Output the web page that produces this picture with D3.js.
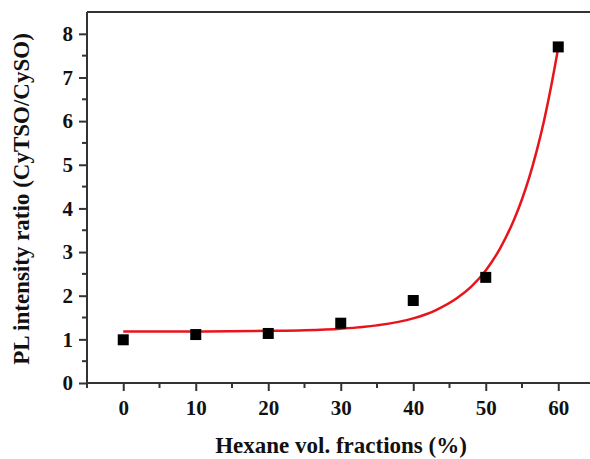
<!DOCTYPE html>
<html>
<head>
<meta charset="utf-8">
<title>PL intensity ratio vs hexane fraction</title>
<style>
  body { margin: 0; background: #fff; }
  svg { display: block; }
  text { font-family: "Liberation Serif", "Times New Roman", serif; font-weight: bold; fill: #111; }
</style>
<script src="https://cdnjs.cloudflare.com/ajax/libs/d3/7.8.5/d3.min.js"></script>
</head>
<body>
<script>
// measured points
const hexane = [0, 10, 20, 30, 40, 50, 60]
const ratio = [0.99, 1.11, 1.135, 1.37, 1.89, 2.42, 7.70]

// fitted curve
const fitX = [0, 10, 20, 25, 30, 35, 40, 43, 46, 48, 50, 52, 54, 55, 56, 57, 58, 59, 60]
const fitY = [1.18, 1.18, 1.195, 1.21, 1.245, 1.32, 1.48, 1.66, 1.94, 2.21, 2.58, 3.09, 3.78, 4.21, 4.71, 5.30, 5.98, 6.78, 7.68]

const xTicks = [0, 10, 20, 30, 40, 50, 60]
const yTicks = [0, 1, 2, 3, 4, 5, 6, 7, 8]

const width = 590
const height = 459
const mLeft = 87, mTop = 12, mBottom = 383

const svg = d3.select("body").append("svg")
    .attr("width", width)
    .attr("height", height)

const x = d3.scaleLinear().domain([-5, 65]).range([mLeft, mLeft + 507.5])
const y = d3.scaleLinear().domain([0, 8.5]).range([mBottom, mTop])

const axisColor = "#333"

// top frame line (right side is cut off in the original)
svg.append("line")
    .attr("x1", mLeft).attr("x2", width)
    .attr("y1", mTop).attr("y2", mTop)
    .attr("stroke", axisColor).attr("stroke-width", 2)

// minor ticks
const xMinor = d3.range(-5, 66, 5).filter(d => d % 10 !== 0)
const yMinor = d3.range(0.5, 8.5, 1)

const xAxis = svg.append("g")
    .attr("transform", `translate(0,${mBottom})`)
    .call(d3.axisBottom(x).tickValues(xTicks).tickSize(8).tickPadding(9).tickFormat(d3.format("d")))
xAxis.append("g").selectAll("line")
    .data(xMinor).join("line")
    .attr("x1", d => x(d)).attr("x2", d => x(d))
    .attr("y1", 0).attr("y2", 5)
    .attr("stroke", axisColor).attr("stroke-width", 2)

const yAxis = svg.append("g")
    .attr("transform", `translate(${mLeft},0)`)
    .call(d3.axisLeft(y).tickValues(yTicks).tickSize(8).tickPadding(6).tickFormat(d3.format("d")))
yAxis.append("g").selectAll("line")
    .data(yMinor).join("line")
    .attr("y1", d => y(d)).attr("y2", d => y(d))
    .attr("x1", 0).attr("x2", -5)
    .attr("stroke", axisColor).attr("stroke-width", 2)

svg.selectAll(".domain").attr("stroke", axisColor).attr("stroke-width", 2)
xAxis.select(".domain").attr("d", `M${mLeft},0H${width}`)
yAxis.select(".domain").attr("d", `M0,${mBottom}V${mTop}`)
svg.selectAll(".tick line").attr("stroke", axisColor).attr("stroke-width", 2)
svg.selectAll(".tick text")
    .attr("font-family", "Liberation Serif, Times New Roman, serif")
    .attr("font-weight", "bold")
    .attr("font-size", 21)
    .attr("fill", "#111")

// fit line
svg.append("path")
    .datum(d3.zip(fitX, fitY))
    .attr("d", d3.line().x(d => x(d[0])).y(d => y(d[1])).curve(d3.curveMonotoneX))
    .attr("fill", "none")
    .attr("stroke", "#e8141b")
    .attr("stroke-width", 2.5)

// squares
const s = 11
svg.selectAll(".pt")
    .data(d3.zip(hexane, ratio))
    .join("rect")
    .attr("class", "pt")
    .attr("x", d => x(d[0]) - s / 2)
    .attr("y", d => y(d[1]) - s / 2)
    .attr("width", s).attr("height", s)
    .attr("fill", "#000")

// axis titles
svg.append("text")
    .attr("x", 341).attr("y", 453)
    .attr("text-anchor", "middle")
    .attr("font-size", 23)
    .text("Hexane vol. fractions (%)")

svg.append("text")
    .attr("transform", "translate(29,199) rotate(-90)")
    .attr("text-anchor", "middle")
    .attr("font-size", 23)
    .text("PL intensity ratio (CyTSO/CySO)")
</script>
</body>
</html>
